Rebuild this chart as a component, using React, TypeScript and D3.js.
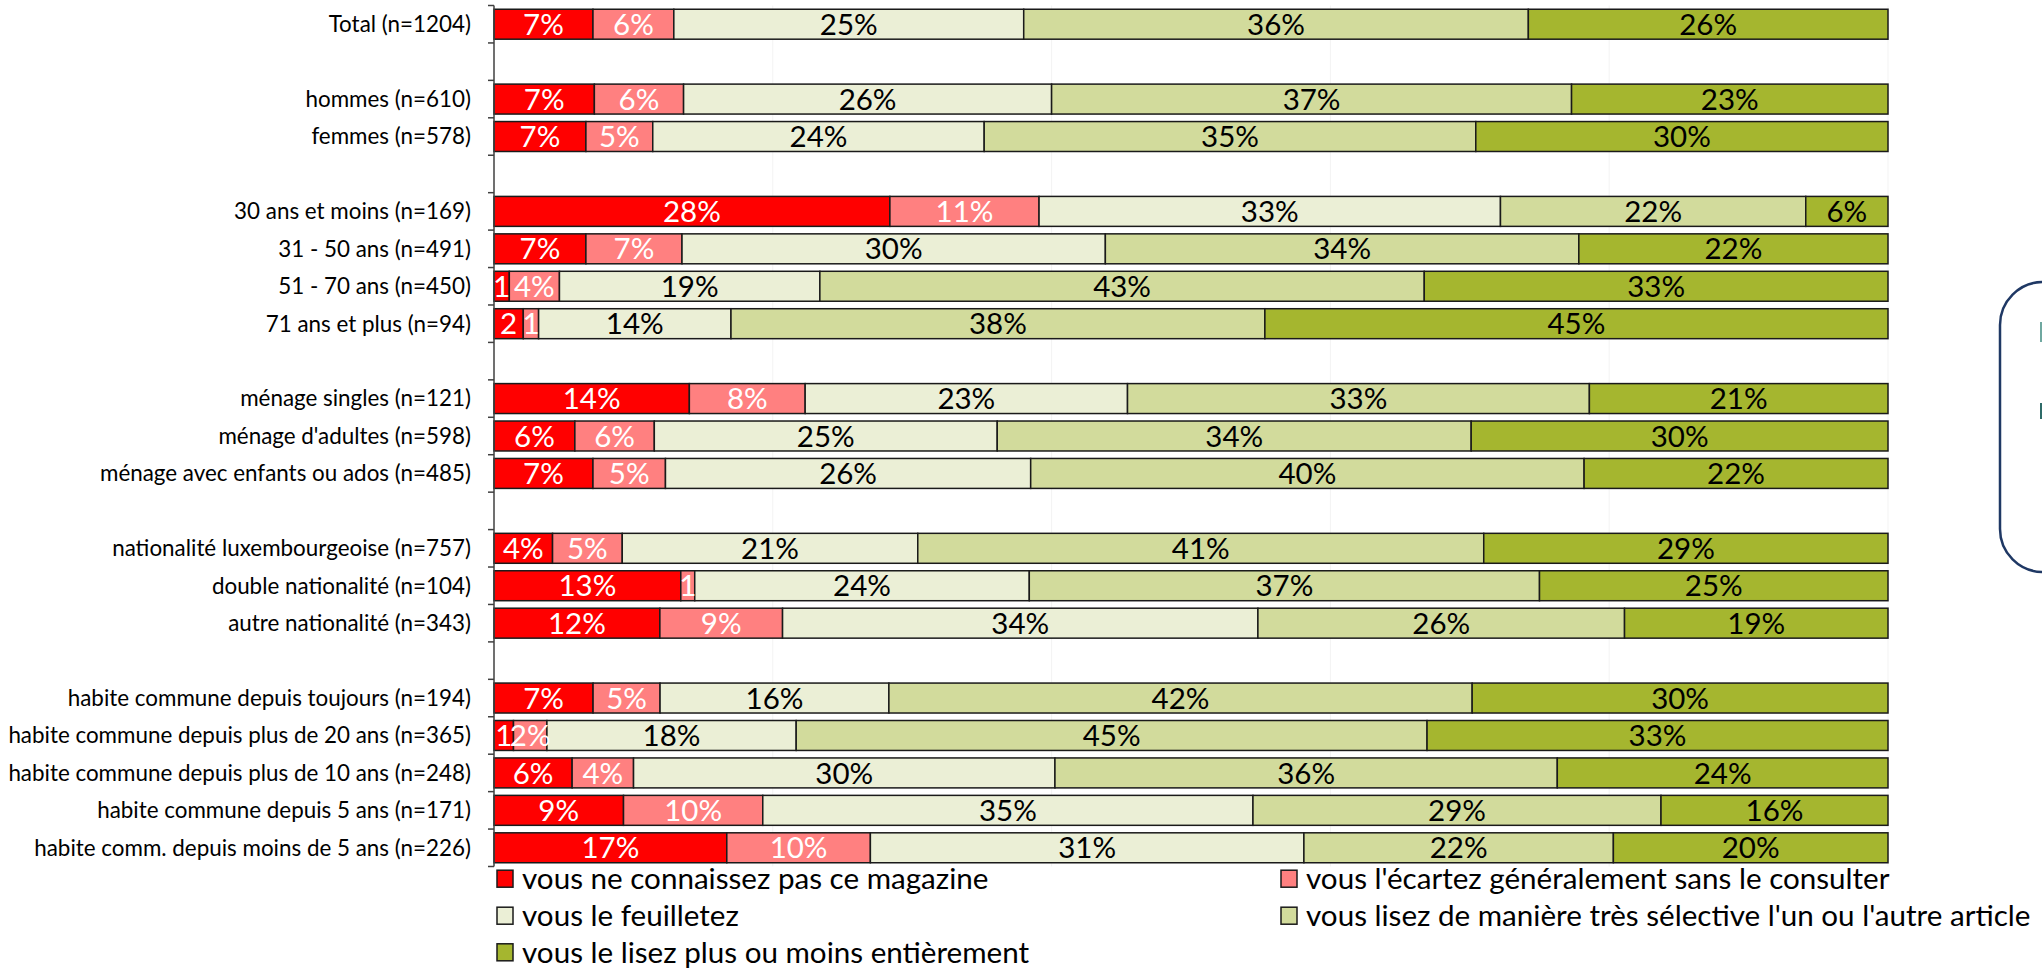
import React from "react";
import * as d3 from "d3";

const categories = [
  "Total (n=1204)", "",
  "hommes (n=610)", "femmes (n=578)", "",
  "30 ans et moins (n=169)", "31 - 50 ans (n=491)", "51 - 70 ans (n=450)", "71 ans et plus (n=94)", "",
  "ménage singles (n=121)", "ménage d'adultes (n=598)", "ménage avec enfants ou ados (n=485)", "",
  "nationalité luxembourgeoise (n=757)", "double nationalité (n=104)", "autre nationalité (n=343)", "",
  "habite commune depuis toujours (n=194)", "habite commune depuis plus de 20 ans (n=365)",
  "habite commune depuis plus de 10 ans (n=248)", "habite commune depuis 5 ans (n=171)",
  "habite comm. depuis moins de 5 ans (n=226)",
];

const seriesNames = [
  "vous ne connaissez pas ce magazine",
  "vous l'écartez généralement sans le consulter",
  "vous le feuilletez",
  "vous lisez de manière très sélective l'un ou l'autre article",
  "vous le lisez plus ou moins entièrement",
];

const neConnaissezPas = [7.1, null, 7.2, 6.6, null, 28.4, 6.6, 1.1, 2.1, null, 14.0, 5.8, 7.1, null, 4.2, 13.4, 11.9, null, 7.1, 1.4, 5.6, 9.3, 16.7];
const ecartez = [5.8, null, 6.4, 4.8, null, 10.7, 6.9, 3.6, 1.1, null, 8.3, 5.7, 5.2, null, 5.0, 1.0, 8.8, null, 4.8, 2.4, 4.4, 10.0, 10.3];
const feuilletez = [25.1, null, 26.4, 23.8, null, 33.1, 30.4, 18.7, 13.8, null, 23.1, 24.6, 26.2, null, 21.2, 24.0, 34.1, null, 16.4, 17.9, 30.2, 35.2, 31.1];
const selective = [36.2, null, 37.3, 35.3, null, 21.9, 34.0, 43.4, 38.3, null, 33.1, 34.0, 39.7, null, 40.6, 36.6, 26.3, null, 41.8, 45.3, 36.0, 29.3, 22.2];
const entierement = [25.8, null, 22.7, 29.6, null, 5.9, 22.2, 33.3, 44.7, null, 21.4, 29.9, 21.8, null, 29.0, 25.0, 18.9, null, 29.8, 33.1, 23.7, 16.3, 19.7];

const seriesValues = [neConnaissezPas, ecartez, feuilletez, selective, entierement];
const colors = ["#ff0000", "#ff8080", "#ebefd6", "#d2db9c", "#a5b62f"];
const labelColors = ["#ffffff", "#ffffff", "#000000", "#000000", "#000000"];
const gridTicks = [0.2, 0.4, 0.6, 0.8, 1.0];

const W = 2042, H = 968;
const X0 = 494, X1 = 1888;
const Y0 = 5.5, Y1 = 866.5;
const FONT = "Lato, 'Open Sans', sans-serif";

let measureCtx: CanvasRenderingContext2D | null = null;
function textWidth(t: string, size: number) {
  if (!measureCtx) measureCtx = document.createElement("canvas").getContext("2d");
  if (!measureCtx) return t.length * size * 0.5;
  measureCtx.font = `${size}px Lato`;
  return measureCtx.measureText(t).width;
}

export default function App() {
  const rows = categories.map((c, i) => {
    const r: any = { cat: c, idx: i };
    seriesValues.forEach((s, k) => (r["s" + k] = s[i] ?? 0));
    return r;
  });
  const keys = seriesValues.map((_, k) => "s" + k);
  const stacked = d3.stack().keys(keys).offset(d3.stackOffsetExpand)(rows);

  const x = d3.scaleLinear().domain([0, 1]).range([X0, X1]);
  const y = d3.scaleBand<number>().domain(d3.range(categories.length)).range([Y0, Y1]).padding(0);
  const step = y.step();
  const barH = step * 0.8;
  const tickYs = d3.range(categories.length + 1).map((i) => Y0 + i * step);

  const dataFont = 29.5;
  const catFont = 22.4;
  const legFont = 29.6;

  const legendItems = [
    { k: 0, x: 497, y: 878.7 },
    { k: 1, x: 1281, y: 878.7 },
    { k: 2, x: 497, y: 915.7 },
    { k: 3, x: 1281, y: 915.7 },
    { k: 4, x: 497, y: 952.3 },
  ];

  return (
    <svg width={W} height={H} style={{ position: "absolute", left: 0, top: 0, background: "#fff" }}>
      <rect x={0} y={0} width={W} height={H} fill="#ffffff" />
      {gridTicks.map((g) => (
        <line key={g} x1={x(g)} x2={x(g)} y1={Y0} y2={Y1} stroke="#f3f3f3" strokeWidth={1} />
      ))}
      {stacked.map((layer, k) =>
        layer.map((d, i) => {
          if (!categories[i]) return null;
          const x0 = x(d[0]), x1 = x(d[1]);
          const yy = (y(i) as number) + (step - barH) / 2;
          return (
            <rect key={k + "-" + i} x={x0} y={yy} width={x1 - x0} height={barH}
              fill={colors[k]} stroke="#1a1a1a" strokeWidth={1.5} />
          );
        })
      )}
      {stacked.map((layer, k) =>
        layer.map((d, i) => {
          if (!categories[i]) return null;
          const v = seriesValues[k][i] as number;
          const x0 = x(d[0]), x1 = x(d[1]);
          const full = Math.round(v) + "%";
          const w = x1 - x0;
          const txt = textWidth(full, dataFont) > w + 8 ? String(Math.round(v)) : full;
          const cy = (y(i) as number) + step / 2;
          return (
            <text key={"t" + k + "-" + i} x={(x0 + x1) / 2} y={cy} dy="0.36em" textAnchor="middle"
              fontFamily={FONT} fontSize={dataFont} fill={labelColors[k]}>{txt}</text>
          );
        })
      )}
      <line x1={X0} x2={X0} y1={Y0} y2={Y1} stroke="#404040" strokeWidth={1.5} />
      {tickYs.map((ty, i) => (
        <line key={"tk" + i} x1={X0 - 6} x2={X0} y1={ty} y2={ty} stroke="#404040" strokeWidth={1.5} />
      ))}
      {categories.map((c, i) =>
        c ? (
          <text key={"c" + i} x={471} y={(y(i) as number) + step / 2} dy="0.35em" textAnchor="end"
            fontFamily={FONT} fontSize={catFont} fill="#000">{c}</text>
        ) : null
      )}
      {legendItems.map((it) => (
        <g key={"lg" + it.k}>
          <rect x={it.x} y={it.y - 8.5} width={16} height={17} fill={colors[it.k]} stroke="#1a1a1a" strokeWidth={1.5} />
          <text x={it.x + 25} y={it.y} dy="0.36em" fontFamily={FONT} fontSize={legFont} fill="#000">
            {seriesNames[it.k]}
          </text>
        </g>
      ))}
      <rect x={2000} y={282} width={200} height={290} rx={43} ry={43} fill="none" stroke="#1f3864" strokeWidth={2.5} />
      <rect x={2040} y={322} width={3} height={20} fill="#6fa8a0" />
      <rect x={2040} y={403} width={3} height={16} fill="#2e6b68" />
    </svg>
  );
}
